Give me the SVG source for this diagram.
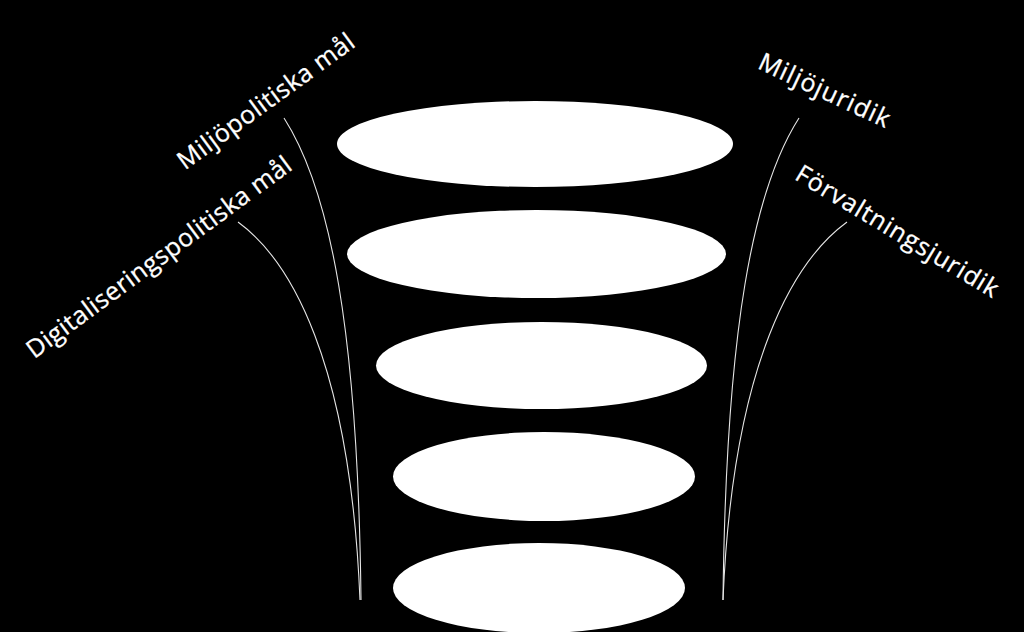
<svg xmlns="http://www.w3.org/2000/svg" width="1024" height="632" viewBox="0 0 1024 632">
<style>
.disc{fill:#ffffff;}
.lbl{fill:#ffffff;stroke:#ffffff;stroke-width:0.3;font-family:"Open Sans","Noto Sans",sans-serif;font-size:25px;text-anchor:middle;dominant-baseline:central;}
.curve{fill:none;stroke:#e6e6e6;stroke-width:1.1;}
</style>
<rect x="0" y="0" width="1024" height="632" fill="#000000"/>
<g id="connectors">
<path class="curve" d="M284,118 C330,190 358,330 361,600"/>
<path class="curve" d="M238,222 C290,260 350,360 360,600"/>
<path class="curve" d="M799,118 C753,190 726,330 723,600"/>
<path class="curve" d="M847,222 C795,260 733,360 723,600"/>
</g>
<g id="disc1"><ellipse class="disc" cx="535" cy="144" rx="198" ry="43"/></g>
<g id="disc2"><ellipse class="disc" cx="536.5" cy="254" rx="189.5" ry="44"/></g>
<g id="disc3"><ellipse class="disc" cx="541.5" cy="365.5" rx="165.5" ry="43.5"/></g>
<g id="disc4"><ellipse class="disc" cx="544" cy="476.5" rx="151" ry="44.5"/></g>
<g id="disc5"><ellipse class="disc" cx="539" cy="588" rx="146" ry="45"/></g>
<g id="label-miljopolitiska"><text class="lbl" transform="translate(265,100) rotate(-36)" textLength="212" lengthAdjust="spacing">Miljöpolitiska mål</text></g>
<g id="label-digitalisering"><text class="lbl" transform="translate(158,256) rotate(-36.3)" textLength="322" lengthAdjust="spacing">Digitaliseringspolitiska mål</text></g>
<g id="label-miljojuridik"><text class="lbl" transform="translate(825,89) rotate(25)" textLength="142" lengthAdjust="spacing">Miljöjuridik</text></g>
<g id="label-forvaltning"><text class="lbl" transform="translate(898,230) rotate(31)" textLength="232" lengthAdjust="spacing">Förvaltningsjuridik</text></g>
</svg>
